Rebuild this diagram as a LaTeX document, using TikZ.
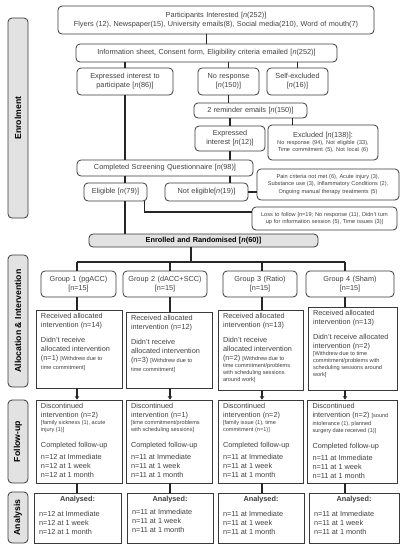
\documentclass[tikz,border=0pt]{standalone}
\usepackage{fontspec}
\setmainfont{Liberation Sans}
\usetikzlibrary{arrows.meta}
\definecolor{bcol}{HTML}{3A3A3A}
\definecolor{tcol}{HTML}{404040}
\definecolor{gfill}{HTML}{E2E2E2}
\newcommand\fm{\fontsize{7.3}{9}\selectfont}
\newcommand\fsm{\fontsize{5.6}{7.2}\selectfont}
\newcommand\fl{\fontsize{8.7}{10}\selectfont\bfseries}
\newcommand\tbx[3]{\parbox[c][#2pt][t]{#1pt}{\raggedright\fm #3}}
\newcommand\nn{\textit{n}}
\begin{document}
\begin{tikzpicture}[x=1pt,y=-1pt,
 rb/.style={draw=bcol, line width=0.8pt, rounded corners=4pt, text=tcol, font=\fm, align=center, inner sep=0pt},
 sq/.style={draw=bcol, line width=0.8pt, text=tcol, inner xsep=5pt, inner ysep=3pt},
 lab/.style={draw=bcol, line width=0.8pt, rounded corners=4pt, fill=gfill, text=black, font=\fl, rotate=90, inner sep=0pt, minimum height=20pt},
 conn/.style={draw=black!85, line width=1.4pt},
 arr/.style={conn, -{Stealth[length=3.5pt,width=4.5pt]}}
]
\useasboundingbox (0,0) rectangle (404,550);
% side labels
\node[lab, minimum width=200pt] (lenr) at (18,118) {Enrolment};
\node[lab, minimum width=132pt] (lall) at (18,321) {Allocation \& Intervention};
\node[lab, minimum width=83pt] (lfol) at (18,441.5) {Follow-up};
\node[lab, minimum width=51pt] (lana) at (18,517.5) {Analysis};
% enrolment
\node[rb, minimum width=316pt, minimum height=28pt, text width=310pt] (top) at (216,20) {Participants Interested [\nn(252)]\\Flyers (12), Newspaper(15), University emails(8), Social media(210), Word of mouth(7)};
\node[rb, minimum width=261pt, minimum height=18pt, text width=255pt] (info) at (206.5,53) {Information sheet, Consent form, Eligibility criteria emailed [\nn(252)]};
\node[rb, minimum width=96pt, minimum height=27pt, text width=92pt] (expr86) at (125,81.5) {Expressed interest to\\participate [\nn(86)]};
\node[rb, minimum width=61pt, minimum height=27pt, text width=58pt] (noresp) at (228.5,81.5) {No response\\{}[\nn(150)]};
\node[rb, minimum width=61pt, minimum height=27pt, text width=58pt] (selfex) at (297.5,81.5) {Self-excluded\\{}[\nn(16)]};
\node[rb, minimum width=113pt, minimum height=15pt, text width=110pt] (remind) at (250.5,110.5) {2 reminder emails [\nn(150)]};
\node[rb, minimum width=70pt, minimum height=25pt, text width=66pt] (expr12) at (230,138.5) {Expressed\\interest [\nn(12)]};
\node[rb, minimum width=110pt, minimum height=35pt, text width=106pt] (excl) at (323,142.5) {Excluded [\nn(138)]:\\[-1pt]{\fsm No response (94), Not eligible (33),\\Time commitment (5), Not local (6)\par}};
\node[rb, minimum width=176pt, minimum height=16pt, text width=172pt] (compl) at (165,168) {Completed Screening Questionnaire [\nn(98)]};
\node[rb, minimum width=63pt, minimum height=18pt, text width=60pt] (elig) at (115.5,192) {Eligible [\nn(79)]};
\node[rb, minimum width=83pt, minimum height=18pt, text width=80pt] (notelig) at (206.5,192) {Not eligible[\nn(19)]};
\node[rb, minimum width=142pt, minimum height=31pt, text width=140pt, font=\fsm] (pain) at (328,184.5) {Pain criteria not met (6), Acute injury (3),\\Substance use (3), Inflammatory Conditions (2),\\Ongoing manual therapy treatments (5)};
\node[rb, minimum width=145pt, minimum height=23pt, text width=143pt, font=\fsm] (loss) at (324.5,218.5) {Loss to follow [\nn=19; No response (11), Didn't turn\\up for information session (5), Time issues (3)]};
\node[rb, minimum width=229pt, minimum height=13pt, text width=225pt, fill=gfill, text=black, font=\fm\bfseries] (enr) at (203.5,240.5) {Enrolled and Randomised [\nn(60)]};
% groups
\node[rb, minimum width=75pt, minimum height=26pt, text width=72pt] (g1) at (78.5,284) {Group 1 (pgACC)\\{}[n=15]};
\node[rb, minimum width=84pt, minimum height=26pt, text width=80pt] (g2) at (165,284) {Group 2 (dACC+SCC)\\{}[n=15]};
\node[rb, minimum width=74pt, minimum height=26pt, text width=70pt] (g3) at (260,284) {Group 3 (Ratio)\\{}[n=15]};
\node[rb, minimum width=88pt, minimum height=26pt, text width=84pt] (g4) at (350,284) {Group 4 (Sham)\\{}[n=15]};
% received
\node[sq] (r1) at (79,349) {\tbx{76}{72}{Received allocated\\intervention (n=14)\\[6pt]Didn't receive\\allocated intervention\\(n=1) {\fsm[Withdrew due to}\\{\fsm time commitment]}}};
\node[sq] (r2) at (169,350) {\tbx{76}{70}{Received allocated\\intervention (n=12)\\[6pt]Didn't receive\\allocated intervention\\(n=3) {\fsm[Withdrew due to}\\{\fsm time commitment]}}};
\node[sq] (r3) at (260.5,350) {\tbx{75}{74}{Received allocated\\intervention (n=13)\\[6pt]Didn't receive\\allocated intervention\\(n=2) {\fsm[Withdrew due to}\\[-1.5pt]{\fsm time commitment/problems}\\[-2pt]{\fsm with scheduling sessions}\\[-2pt]{\fsm around work]}}};
\node[sq] (r4) at (352.5,348.5) {\tbx{79}{77}{Received allocated\\intervention (n=13)\\[6pt]Didn't receive allocated\\intervention (n=2)\\[-1.5pt]{\fsm[Withdrew due to time}\\[-2pt]{\fsm commitment/problems with}\\[-2pt]{\fsm scheduling sessions around}\\[-2pt]{\fsm work]}}};
% follow-up
\node[sq] (f1) at (79,441.5) {\tbx{76}{77}{Discontinued\\intervention (n=2)\\[-1.5pt]{\fsm[family sickness (1), acute}\\[-2pt]{\fsm injury (1)]}\\[7pt]Completed follow-up\\[3pt]n=12 at Immediate\\n=12 at 1 week\\n=12 at 1 month}};
\node[sq] (f2) at (169,441.5) {\tbx{76}{77}{Discontinued\\intervention (n=1)\\[-1.5pt]{\fsm[time commitment/problems}\\[-2pt]{\fsm with scheduling sessions]}\\[7pt]Completed follow-up\\[3pt]n=11 at Immediate\\n=11 at 1 week\\n=11 at 1 month}};
\node[sq] (f3) at (260.5,441.5) {\tbx{75}{77}{Discontinued\\intervention (n=2)\\[-1.5pt]{\fsm[family issue (1), time}\\[-2pt]{\fsm commitment (n=1)]}\\[7pt]Completed follow-up\\[3pt]n=11 at Immediate\\n=11 at 1 week\\n=11 at 1 month}};
\node[sq] (f4) at (352.5,441.5) {\tbx{80}{77}{Discontinued\\intervention (n=2) {\fsm[sound}\\[-1pt]{\fsm intolerance (1), planned}\\[-2pt]{\fsm surgery date received (1)]}\\[7pt]Completed follow-up\\[3pt]n=11 at Immediate\\n=11 at 1 week\\n=11 at 1 month}};
% analysis
\node[sq] (a1) at (77.5,518) {\tbx{77}{44}{{\centering\bfseries Analysed:\par}\vspace{6pt}n=12 at Immediate\\n=12 at 1 week\\n=12 at 1 month}};
\node[sq] (a2) at (170,518) {\tbx{76}{44}{{\centering\bfseries Analysed:\par}\vspace{4pt}n=11 at Immediate\\n=11 at 1 week\\n=11 at 1 month}};
\node[sq] (a3) at (261,518) {\tbx{76}{44}{{\centering\bfseries Analysed:\par}\vspace{6pt}n=11 at Immediate\\n=11 at 1 week\\n=11 at 1 month}};
\node[sq] (a4) at (354,518) {\tbx{80}{44}{{\centering\bfseries Analysed:\par}\vspace{6pt}n=11 at Immediate\\n=11 at 1 week\\n=11 at 1 month}};
% connectors (enrolment)
\draw[conn] (top.south -| info) -- (info.north);
\draw[conn] (info.south -| expr86) -- (expr86.north);
\draw[conn] (info.south -| noresp) -- (noresp.north);
\draw[conn] (info.south -| selfex) -- (selfex.north);
\draw[conn] (noresp.south) -- (noresp.south |- remind.north);
\draw[conn] (remind.south -| expr12) -- (expr12.north);
\coordinate (rx) at ([xshift=-15pt]remind.south east);
\draw[conn] (rx) -- (rx |- excl.north);
\draw[conn] (expr86.south) -- (expr86.south |- compl.north);
\draw[conn] (expr12.south) -- (expr12.south |- compl.north);
\draw[conn] (compl.south -| expr86) -- (elig.north -| expr86);
\draw[conn] (compl.south -| expr12) -- (notelig.north -| expr12);
\draw[conn] (notelig.east) -- (notelig.east -| pain.west);
\draw[conn] (elig.south -| expr86) -- (enr.north -| expr86);
\coordinate (lx) at ([xshift=-3pt]elig.south east);
\coordinate (ly) at ([yshift=6.5pt]loss.west);
\draw[conn] (lx) |- (ly);
% allocation bus
\coordinate (bus) at (191,262);
\coordinate (ax1) at (77,262);
\coordinate (ax2) at (170,262);
\coordinate (ax3) at (262,262);
\coordinate (ax4) at (345,262);
\draw[conn] (enr.south -| bus) -- (bus);
\draw[conn] (ax1) -- (ax4);
\foreach \i in {1,2,3,4}{
  \draw[conn] (ax\i) -- (ax\i |- g\i.north);
  \draw[conn] (g\i.south -| ax\i) -- (r\i.north -| ax\i);
  \draw[arr] (r\i.south -| ax\i) -- (f\i.north -| ax\i);
  \draw[conn] (f\i.south -| ax\i) -- (a\i.north -| ax\i);
}
\end{tikzpicture}
\end{document}
